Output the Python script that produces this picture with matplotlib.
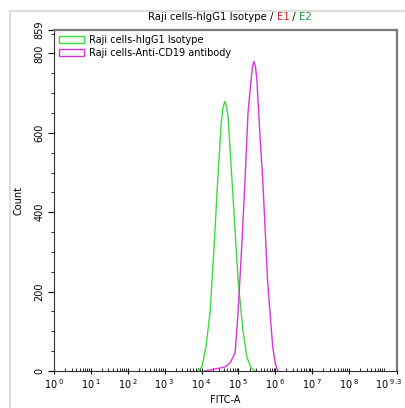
import numpy as np
import matplotlib.pyplot as plt
import matplotlib.transforms as mtransforms
from matplotlib.patches import Rectangle
from matplotlib.ticker import MultipleLocator, LogLocator, NullFormatter

# histogram outlines, x as log10(FITC-A), y as count
iso_log = [3.90, 4.01, 4.12, 4.23, 4.34, 4.44, 4.53, 4.58, 4.63, 4.68, 4.72, 4.77, 4.88, 4.99, 5.12, 5.23, 5.34, 5.45]
iso_cnt = [0, 10, 60, 146, 313, 482, 620, 664, 679, 666, 640, 565, 399, 230, 104, 35, 8, 0]

cd19_log = [4.09, 4.36, 4.63, 4.77, 4.91, 4.99, 5.09, 5.18, 5.26, 5.33, 5.38, 5.42, 5.46, 5.50, 5.58, 5.66, 5.79, 5.93, 6.01, 6.07]
cd19_cnt = [0, 5, 10, 20, 45, 146, 313, 482, 650, 720, 765, 780, 768, 735, 600, 482, 230, 60, 15, 0]

xtick_exp = [0, 1, 2, 3, 4, 5, 6, 7, 8, 9.3]
xtick_lab = ['0', '1', '2', '3', '4', '5', '6', '7', '8', '9.3']
yticks = [0, 200, 400, 600, 800, 859]

green = '#3ddc3d'
magenta = '#dd33dd'

fig = plt.figure(figsize=(4.05, 4.08), dpi=100)
W, H = 405, 408
ax = fig.add_axes([54 / W, 1 - 371 / H, (397 - 54) / W, (371 - 30) / H])

# light grey frame of the screenshot
fig.add_artist(plt.Line2D([10 / W, 10 / W], [0, 1 - 11 / H], color='#dddddd', lw=1.5))
fig.add_artist(plt.Line2D([10 / W, 1], [1 - 11 / H, 1 - 11 / H], color='#dddddd', lw=1.5))

ax.plot(10 ** np.array(iso_log), iso_cnt, color=green, lw=1)
ax.plot(10 ** np.array(cd19_log), cd19_cnt, color=magenta, lw=1)

ax.set_xscale('log')
ax.set_xlim(1, 10 ** 9.3)
ax.set_ylim(0, 859)

ax.set_xticks([10 ** e for e in xtick_exp])
ax.set_xticklabels([r'$\mathregular{10^{\ %s}}$' % s for s in xtick_lab], fontsize=7)
ax.xaxis.set_minor_locator(LogLocator(base=10, subs=np.arange(2, 10), numticks=30))
ax.xaxis.set_minor_formatter(NullFormatter())
ax.tick_params(axis='x', which='major', direction='inout', length=5, width=0.8, pad=2)
ax.tick_params(axis='x', which='minor', direction='in', length=2.5, width=0.6)

# last label sits at the very edge: nudge it left so it stays in the picture
last = ax.get_xticklabels()[-1]
last.set_transform(last.get_transform() + mtransforms.ScaledTranslation(-8 / 100, 0, fig.dpi_scale_trans))

ax.set_yticks(yticks)
ax.set_yticklabels([str(v) for v in yticks], rotation=90, va='center', fontsize=7)
ax.yaxis.set_minor_locator(MultipleLocator(50))
ax.tick_params(axis='y', which='major', direction='out', length=4, width=0.8, pad=3)
ax.tick_params(axis='y', which='minor', direction='out', length=2, width=0.6)

for side in ['top', 'right']:
    ax.spines[side].set_color('#777777')
    ax.spines[side].set_linewidth(1.6)
for side in ['left', 'bottom']:
    ax.spines[side].set_color('#333333')
    ax.spines[side].set_linewidth(0.8)

ax.set_xlabel('FITC-A', fontsize=7, labelpad=3)
ax.set_ylabel('Count', fontsize=7, labelpad=8)

# legend with hollow boxes
h1 = Rectangle((0, 0), 1, 1, facecolor='none', edgecolor=green, lw=1)
h2 = Rectangle((0, 0), 1, 1, facecolor='none', edgecolor=magenta, lw=1)
ax.legend([h1, h2], ['Raji cells-hIgG1 Isotype', 'Raji cells-Anti-CD19 antibody'],
          loc='upper left', frameon=False, fontsize=7, handlelength=2.6, handleheight=0.8,
          borderaxespad=0.1, labelspacing=0.3, handletextpad=0.5)

# multi-coloured title
t1 = fig.text(148 / W, 1 - 20 / H, 'Raji cells-hIgG1 Isotype / ', fontsize=7.3, va='baseline')
t2 = ax.annotate('E1', xy=(1, 0), xycoords=t1, va='bottom', fontsize=7.3, color='#e02020')
t3 = ax.annotate(' / ', xy=(1, 0), xycoords=t2, va='bottom', fontsize=7.3)
t4 = ax.annotate('E2', xy=(1, 0), xycoords=t3, va='bottom', fontsize=7.3, color='#20a040')

fig.savefig('out.png', dpi=100)
